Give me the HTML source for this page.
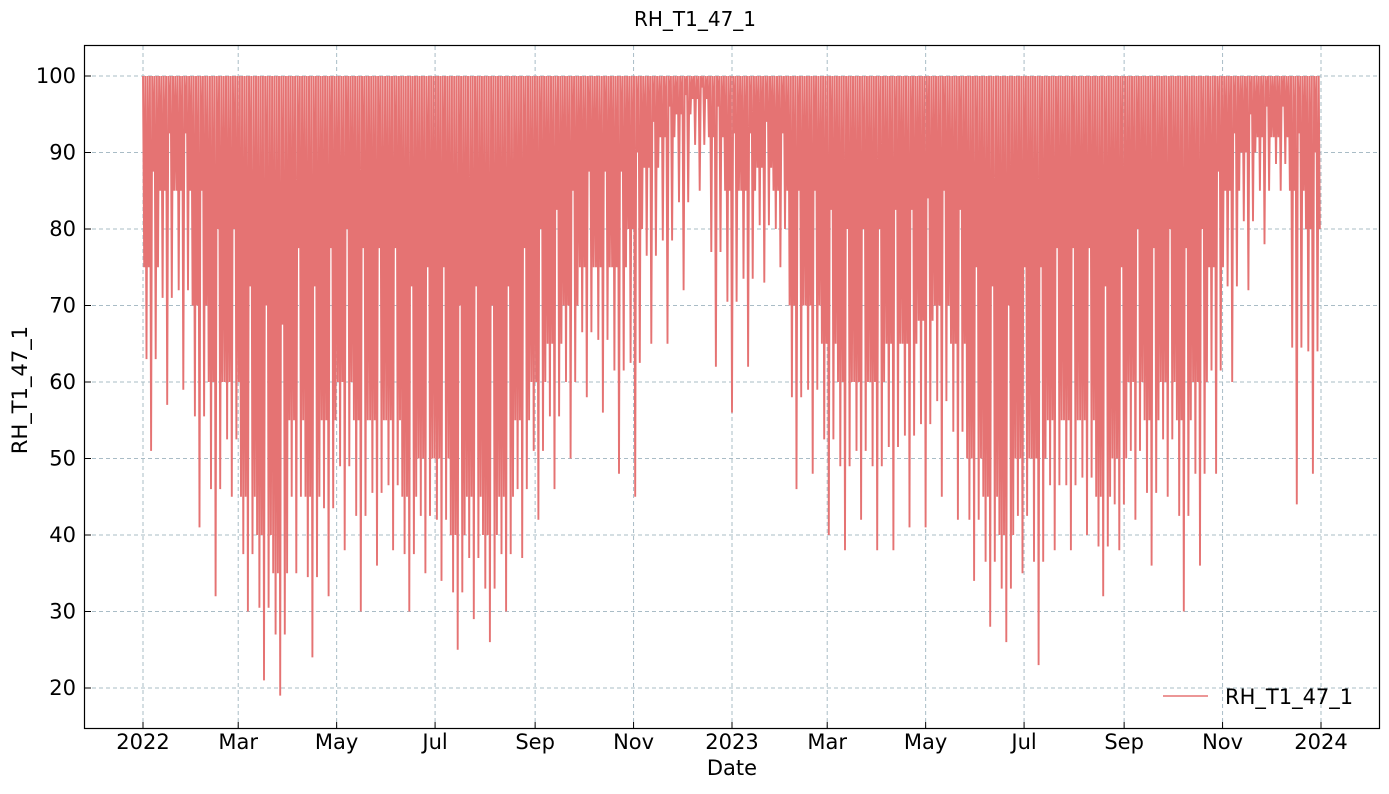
<!DOCTYPE html>
<html><head><meta charset="utf-8"><style>
html,body{margin:0;padding:0;background:#fff;}
svg text{font-family:"DejaVu Sans","Liberation Sans",sans-serif;fill:#000;}
</style></head><body>
<svg id="chart" width="1389" height="789" viewBox="0 0 1389 789" xmlns="http://www.w3.org/2000/svg">
<text x="695" y="26" font-size="20" text-anchor="middle">RH_T1_47_1</text>
<g id="grid"></g>
<g id="series"></g>
<rect x="84.5" y="45.5" width="1295" height="683" fill="none" stroke="#000" stroke-width="1.2"/>
<g id="axes"></g>
<text transform="translate(27,390) rotate(-90)" font-size="21" text-anchor="middle">RH_T1_47_1</text>
<text x="732" y="775" font-size="21" text-anchor="middle">Date</text>
<g>
<line x1="1163" y1="696" x2="1208" y2="696" stroke="#e57373" stroke-width="1.5"/>
<text x="1225" y="704" font-size="21">RH_T1_47_1</text>
</g>
</svg>
<script>
// 10-day bins starting 2022-01-01
const binCore = [75,85,85,70,60,60,45,40,35,55,45,55,60,55,55,55,45,50,50,40,45,40,45,55,60,65,70,75,75,75,80,88,92,95,97,92,85,85,88,85,70,70,65,60,60,60,65,65,68,70,65,50,45,40,50,50,55,55,55,45,50,60,55,60,55,60,75,85,90,92,92,85,80];
const binMin = [51,57,59,41,32,45,30,21,19,35,24,32,38,30,36,38,30,35,34,25,29,26,30,37,42,46,50,58,56,48,45,65,65,72,85,62,56,62,73,75,46,48,40,38,42,38,38,41,41,45,42,34,28,26,35,23,38,38,40,32,38,42,36,45,30,36,48,60,72,78,85,44,48];
const binHigh = [100,100,100,100,100,100,100,100,100,100,100,100,100,100,100,100,100,100,100,100,100,100,100,100,100,100,100,100,100,100,100,100,100,100,100,100,100,100,100,100,100,100,100,100,100,100,100,100,100,100,100,100,100,100,100,100,100,100,100,100,100,100,100,100,100,100,100,100,100,100,100,100,100];
const yTicks = [20,30,40,50,60,70,80,90,100];
const xTickDays = [0,59,120,181,243,304,365,424,485,546,608,669,730];
const xTickLabels = ["2022","Mar","May","Jul","Sep","Nov","2023","Mar","May","Jul","Sep","Nov","2024"];

const NS = "http://www.w3.org/2000/svg";
const xScale = d => 143 + d * (1178 / 730);
const yScale = v => 76 + (100 - v) * (612 / 80);
const grid = document.getElementById('grid');
const axes = document.getElementById('axes');
const series = document.getElementById('series');

yTicks.forEach(v => {
  const y = yScale(v);
  const g = document.createElementNS(NS, 'line');
  
  
  g.setAttribute('x1', 85); g.setAttribute('x2', 1380);
  g.setAttribute('y1', y); g.setAttribute('y2', y);
  g.setAttribute('stroke', '#a9bcc6'); g.setAttribute('stroke-dasharray', '4,3'); g.setAttribute('stroke-width', '1');
  grid.appendChild(g);
  const t = document.createElementNS(NS, 'line');
  
  
  t.setAttribute('x1', 85); t.setAttribute('x2', 91); t.setAttribute('y1', y); t.setAttribute('y2', y);
  t.setAttribute('stroke', '#000');
  axes.appendChild(t);
  const l = document.createElementNS(NS, 'text');
  
  
  l.setAttribute('x', 76); l.setAttribute('y', y + 7);
  l.setAttribute('font-size', '21'); l.setAttribute('text-anchor', 'end');
  l.textContent = v;
  axes.appendChild(l);
});

xTickDays.forEach((d, i) => {
  const x = xScale(d);
  const g = document.createElementNS(NS, 'line');
  
  
  g.setAttribute('x1', x); g.setAttribute('x2', x); g.setAttribute('y1', 46); g.setAttribute('y2', 728);
  g.setAttribute('stroke', '#a9bcc6'); g.setAttribute('stroke-dasharray', '4,3'); g.setAttribute('stroke-width', '1');
  grid.appendChild(g);
  const t = document.createElementNS(NS, 'line');
  
  
  t.setAttribute('x1', x); t.setAttribute('x2', x); t.setAttribute('y1', 722); t.setAttribute('y2', 728);
  t.setAttribute('stroke', '#000');
  axes.appendChild(t);
  const l = document.createElementNS(NS, 'text');
  
  
  l.setAttribute('x', x); l.setAttribute('y', 749);
  l.setAttribute('font-size', '21'); l.setAttribute('text-anchor', 'middle');
  l.textContent = xTickLabels[i];
  axes.appendChild(l);
});

let pts = [];
const SUB = 14;
binCore.forEach((c, b) => {
  for (let j = 0; j < SUB; j++) {
    const day = b * 10 + j * (10 / SUB);
    if (day > 730) break;
    let v;
    if (j % 2 === 0) v = binHigh[b];
    else if (j === 7) v = binMin[b];
    else if (j === 3 || j === 11) v = (c + binMin[b]) / 2;
    else if (j === 9) v = (c + binHigh[b]) / 2;
    else v = c;
    pts.push(xScale(day).toFixed(1) + ',' + yScale(v).toFixed(1));
  }
});
const pl = document.createElementNS(NS, 'polyline');


pl.setAttribute('points', pts.join(' '));
pl.setAttribute('fill', 'none');
pl.setAttribute('stroke', '#e57373');
pl.setAttribute('stroke-width', '1.9');
pl.setAttribute('stroke-linejoin', 'bevel');
series.appendChild(pl);
</script>
</body></html>
